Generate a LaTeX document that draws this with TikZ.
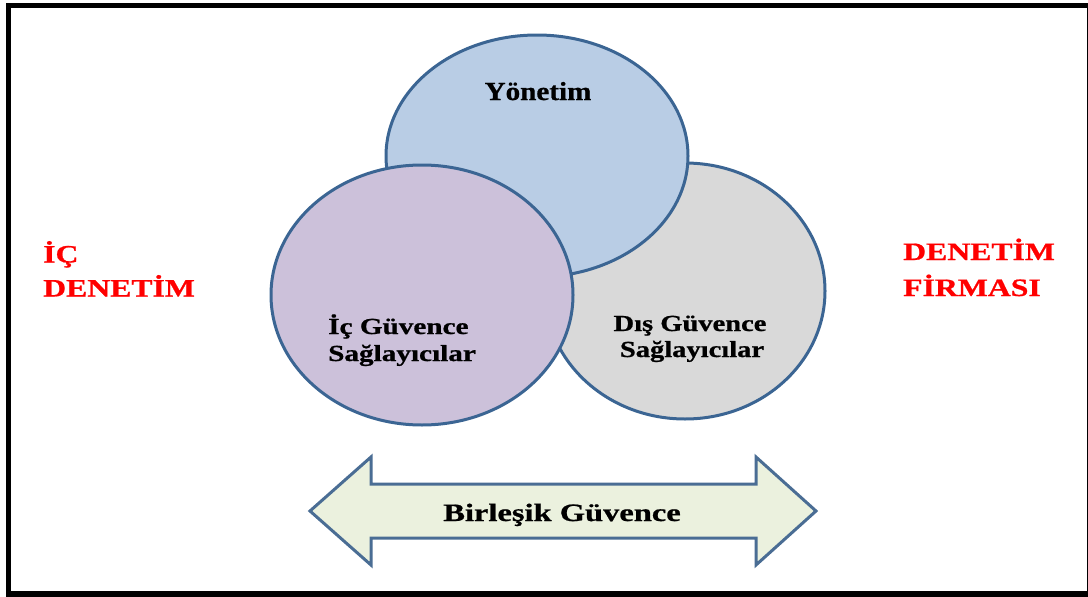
\documentclass[tikz,border=0pt]{standalone}
\usepackage{fontspec}
\setmainfont{Liberation Serif}
\newfontface\heavyface{Liberation Serif Bold}[FakeBold=0.7]
\definecolor{edgeblue}{HTML}{3B6593}
\definecolor{bluefill}{HTML}{B9CDE5}
\definecolor{grayfill}{HTML}{D9D9D9}
\definecolor{purplefill}{HTML}{CCC1DA}
\definecolor{arrowfill}{HTML}{EBF1DE}
\definecolor{arrowedge}{HTML}{4A6D94}
\definecolor{redtxt}{HTML}{FF0000}
\newcommand\hx[2]{\scalebox{#1}[1]{#2}}
\begin{document}
\begin{tikzpicture}[x=1pt,y=-1pt,
  elps/.style={draw=edgeblue, line width=3pt},
  redlbl/.style={inner sep=0pt, text=redtxt, font=\fontsize{25}{30}\selectfont\heavyface},
  biglbl/.style={inner sep=0pt, text=black, font=\fontsize{26}{30}\selectfont\heavyface},
  midlbl/.style={inner sep=0pt, text=black, font=\fontsize{23}{28}\selectfont\heavyface},
  arrlbl/.style={inner sep=0pt, text=black, font=\fontsize{25}{30}\selectfont\heavyface}]
\useasboundingbox (0,0) rectangle (1088,597);
% frame
\draw[line width=5.5pt] (8.5,5.5) rectangle (1090,594);
% ellipses
\draw[elps, fill=grayfill] (685,291) ellipse [x radius=140, y radius=128];
\draw[elps, fill=bluefill] (537,156) ellipse [x radius=151, y radius=121];
\draw[elps, fill=purplefill] (422,295) ellipse [x radius=151, y radius=130];
% double arrow
\draw[draw=arrowedge, line width=3pt, fill=arrowfill, line join=miter]
  (310,511) -- (371,457) -- (371,484) -- (756,484) -- (756,457) -- (816,511)
  -- (756,565) -- (756,538) -- (371,538) -- (371,565) -- cycle;
% texts
\node[biglbl, anchor=base] (yon) at (538,100) {\hx{1.12}{Yönetim}};
\node[midlbl, anchor=base west] (ic1) at (328,334) {\hx{1.27}{İç Güvence}};
\node[midlbl, anchor=base west] (ic2) at (328,361) {\hx{1.27}{Sağlayıcılar}};
\node[midlbl, anchor=base] (dis1) at (690,331) {\hx{1.24}{Dış Güvence}};
\node[midlbl, anchor=base] (dis2) at (692,357) {\hx{1.24}{Sağlayıcılar}};
\node[arrlbl, anchor=base] (birl) at (562,521) {\hx{1.30}{Birleşik Güvence}};
\node[redlbl, anchor=base west] (icd1) at (43,262.5) {\hx{1.27}{İÇ}};
\node[redlbl, anchor=base west] (icd2) at (43,296.5) {\hx{1.27}{DENETİM}};
\node[redlbl, anchor=base west] (df1) at (903,260) {\hx{1.27}{DENETİM}};
\node[redlbl, anchor=base west] (df2) at (903,296) {\hx{1.27}{FİRMASI}};
\end{tikzpicture}
\end{document}
